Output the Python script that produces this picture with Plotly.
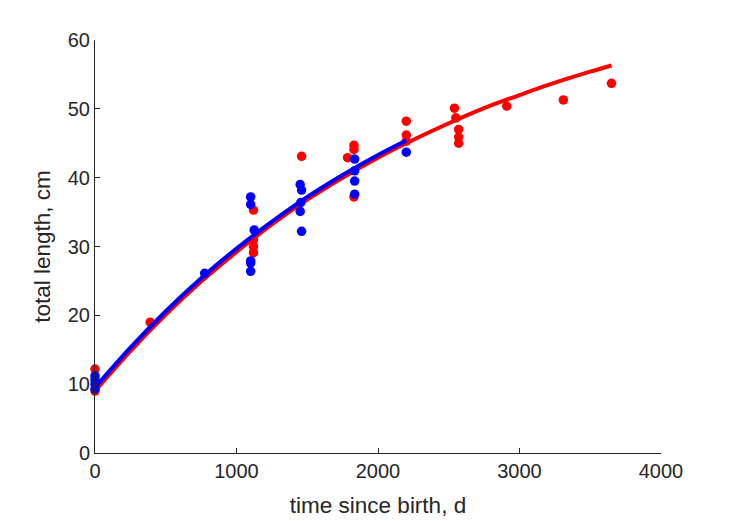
import plotly.graph_objects as go

# observed data (time since birth, d ; total length, cm)
red_t = [0, 0, 390, 1120, 1120, 1120, 1120, 1460, 1785, 1830, 1830, 1830,
         2200, 2200, 2200, 2540, 2550, 2570, 2570, 2570, 2910, 3310, 3650]
red_L = [12.2, 9.0, 19.0, 35.3, 31.0, 30.0, 29.1, 43.1, 42.9, 44.7, 44.1, 37.2,
         48.2, 46.2, 45.3, 50.1, 48.7, 47.0, 45.9, 45.0, 50.4, 51.3, 53.7]

blue_t = [0, 0, 0, 0, 775, 1100, 1100, 1100, 1100, 1100, 1125,
          1450, 1460, 1455, 1450, 1460, 1835, 1835, 1835, 1835, 2200]
blue_L = [11.2, 10.6, 10.0, 9.3, 26.1, 37.2, 36.1, 27.9, 27.6, 26.4, 32.4,
          39.0, 38.2, 36.4, 35.1, 32.2, 42.7, 41.0, 39.5, 37.6, 43.7]

# fitted curves, values
red_curve_t = [0, 250, 500, 750, 1000, 1250, 1500, 1750, 2000, 2250, 2500,
               2750, 3000, 3250, 3500, 3650]
red_curve_L = [9.0, 14.8, 20.1, 24.9, 29.2, 33.2, 36.8, 40.0, 42.9, 45.5, 47.9,
               50.1, 52.0, 53.8, 55.4, 56.3]
blue_curve_t = [0, 250, 500, 750, 1000, 1250, 1500, 1750, 2000, 2200]
blue_curve_L = [9.5, 15.3, 20.6, 25.4, 29.7, 33.6, 37.2, 40.4, 43.3, 45.4]

x_ticks = [0, 1000, 2000, 3000, 4000]
y_ticks = [0, 10, 20, 30, 40, 50, 60]

RED = "#ff0000"
BLUE = "#0000ff"
AX = "#262626"
FONT = "Liberation Sans"

fig = go.Figure()
fig.add_trace(go.Scatter(x=red_t, y=red_L, mode="markers",
                         marker=dict(color=RED, size=9.5), cliponaxis=False,
                         showlegend=False))
fig.add_trace(go.Scatter(x=red_curve_t, y=red_curve_L, mode="lines",
                         line=dict(color=RED, width=4, shape="spline"),
                         cliponaxis=False, showlegend=False))
fig.add_trace(go.Scatter(x=blue_t, y=blue_L, mode="markers",
                         marker=dict(color=BLUE, size=9.5), cliponaxis=False,
                         showlegend=False))
fig.add_trace(go.Scatter(x=blue_curve_t, y=blue_curve_L, mode="lines",
                         line=dict(color=BLUE, width=4, shape="spline"),
                         cliponaxis=False, showlegend=False))

axis_common = dict(showgrid=False, zeroline=False, showline=True,
                   linecolor=AX, linewidth=1, ticks="inside", ticklen=5,
                   tickcolor=AX, tickfont=dict(family=FONT, size=20, color=AX),
                   mirror=False)

fig.update_layout(
    width=729, height=521,
    margin=dict(l=87, r=76, t=32, b=76),
    plot_bgcolor="white", paper_bgcolor="white",
    xaxis=dict(range=[0, 4000], tickvals=x_ticks,
               title=dict(text="time since birth, d",
                          font=dict(family=FONT, size=22.5, color=AX),
                          standoff=16),
               **axis_common),
    yaxis=dict(range=[0, 60], tickvals=y_ticks,
               title=dict(text="total length, cm",
                          font=dict(family=FONT, size=22.5, color=AX),
                          standoff=10),
               **axis_common),
)

fig.write_html("out.html")
